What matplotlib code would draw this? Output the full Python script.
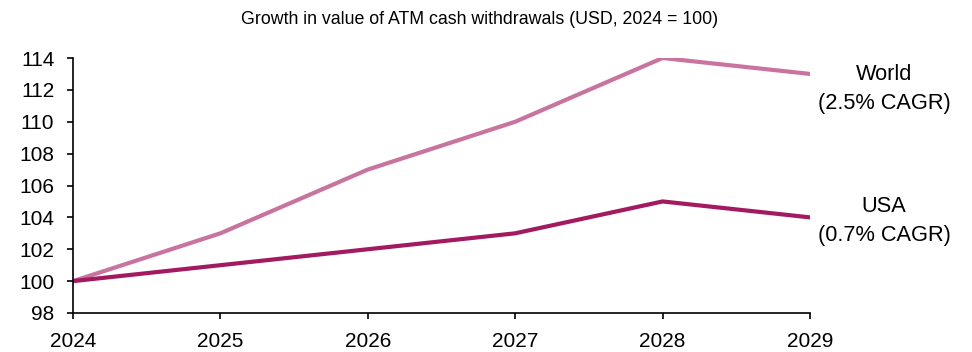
import matplotlib
matplotlib.use("Agg")
import matplotlib.pyplot as plt

years = [2024, 2025, 2026, 2027, 2028, 2029]
world = [100, 103, 107, 110, 114, 113]
usa = [100, 101, 102, 103, 105, 104]
y_ticks = [98, 100, 102, 104, 106, 108, 110, 112, 114]

world_color = "#C9739F"
usa_color = "#A31A60"

plt.rcParams["font.family"] = ["Liberation Sans", "DejaVu Sans"]

fig = plt.figure(figsize=(9.72, 3.52), dpi=100)
ax = fig.add_axes([73 / 972, 1 - 313 / 352, (810 - 73) / 972, (313 - 58) / 352])

ax.plot(years, world, color=world_color, lw=3.0, solid_joinstyle="miter")
ax.plot(years, usa, color=usa_color, lw=3.0, solid_joinstyle="miter")

ax.set_xlim(2024, 2029)
ax.set_ylim(98, 114)
ax.set_xticks(years)
ax.set_yticks(y_ticks)
ax.tick_params(axis="both", labelsize=15, length=4.5, width=1.2, colors="black")
ax.tick_params(axis="y", pad=9)
ax.tick_params(axis="x", pad=9)
for side in ("top", "right"):
    ax.spines[side].set_visible(False)
for side in ("left", "bottom"):
    ax.spines[side].set_linewidth(1.2)

# series labels to the right of the line ends
label_x = 884 / 972
fig.text(label_x, 1 - 75 / 352, "World", ha="center", va="center", fontsize=15.7)
fig.text(label_x, 1 - 104 / 352, "(2.5% CAGR)", ha="center", va="center", fontsize=15.7)
fig.text(label_x, 1 - 207 / 352, "USA", ha="center", va="center", fontsize=15.7)
fig.text(label_x, 1 - 235 / 352, "(0.7% CAGR)", ha="center", va="center", fontsize=15.7)

fig.text(480 / 972, 1 - 19 / 352, "Growth in value of ATM cash withdrawals (USD, 2024 = 100)",
         ha="center", va="center", fontsize=12.8)

fig.savefig("out.png", dpi=100)
